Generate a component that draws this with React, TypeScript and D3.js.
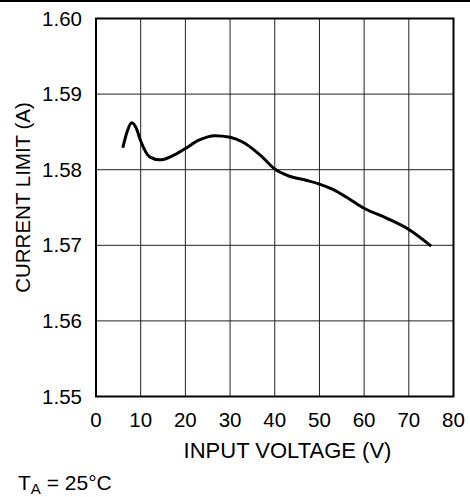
import React from "react";
import * as d3 from "d3";

const xTicks = [0, 10, 20, 30, 40, 50, 60, 70, 80];
const yTicks = [1.55, 1.56, 1.57, 1.58, 1.59, 1.6];
const voltage = [6, 7, 8, 9, 10, 12, 14.3, 17, 20, 23, 26.6, 30, 33, 37, 40, 43, 47, 50, 53, 57, 60, 65, 70, 75];
const currentLimit = [1.5829, 1.5851, 1.5862, 1.5855, 1.5838, 1.5817, 1.5813, 1.5818, 1.5828, 1.5839, 1.5845, 1.5843, 1.5836, 1.5818, 1.5801, 1.5792, 1.5786, 1.5781, 1.5774, 1.5760, 1.5749, 1.5736, 1.5721, 1.5699];

const W = 470;
const H = 497;
const left = 96;
const right = 453.5;
const top = 18.5;
const bottom = 396.5;

export default function App() {
  const x = d3.scaleLinear().domain([0, 80]).range([left, right]);
  const y = d3.scaleLinear().domain([1.55, 1.6]).range([bottom, top]);
  const pts: [number, number][] = voltage.map((v, i) => [v, currentLimit[i]]);
  const line = d3
    .line<[number, number]>()
    .x((d) => x(d[0]))
    .y((d) => y(d[1]))
    .curve(d3.curveMonotoneX);
  const font = "'Liberation Sans', Arial, sans-serif";
  return (
    <svg
      width={W}
      height={H}
      style={{ position: "absolute", left: 0, top: 0, background: "#fff" }}
      fontFamily={font}
    >
      <line x1={0} x2={W} y1={1} y2={1} stroke="#000" strokeWidth={2} />
      {xTicks.slice(1, -1).map((t) => (
        <line key={"gx" + t} x1={x(t)} x2={x(t)} y1={top} y2={bottom} stroke="#222" strokeWidth={1} />
      ))}
      {yTicks.slice(1, -1).map((t) => (
        <line key={"gy" + t} x1={left} x2={right} y1={y(t)} y2={y(t)} stroke="#222" strokeWidth={1} />
      ))}
      <rect x={left} y={top} width={right - left} height={bottom - top} fill="none" stroke="#000" strokeWidth={2} />
      <path d={line(pts) || ""} fill="none" stroke="#000" strokeWidth={3} strokeLinejoin="round" />
      {yTicks.map((t) => (
        <text key={"ty" + t} x={82} y={y(t)} dy="0.35em" textAnchor="end" fontSize={20.5} fill="#000">
          {t.toFixed(2)}
        </text>
      ))}
      {xTicks.map((t) => (
        <text key={"tx" + t} x={x(t)} y={427} textAnchor="middle" fontSize={20.5} fill="#000">
          {t}
        </text>
      ))}
      <text x={287.5} y={458} textAnchor="middle" fontSize={22} fill="#000">
        INPUT VOLTAGE (V)
      </text>
      <text
        transform={`translate(30,197.5) rotate(-90)`}
        textAnchor="middle"
        fontSize={20.5}
        fill="#000"
      >
        CURRENT LIMIT (A)
      </text>
      <text x={18} y={490} fontSize={21} fill="#000">
        T<tspan fontSize={15} dy={4}>A</tspan>
        <tspan dy={-4}> = 25°C</tspan>
      </text>
    </svg>
  );
}
